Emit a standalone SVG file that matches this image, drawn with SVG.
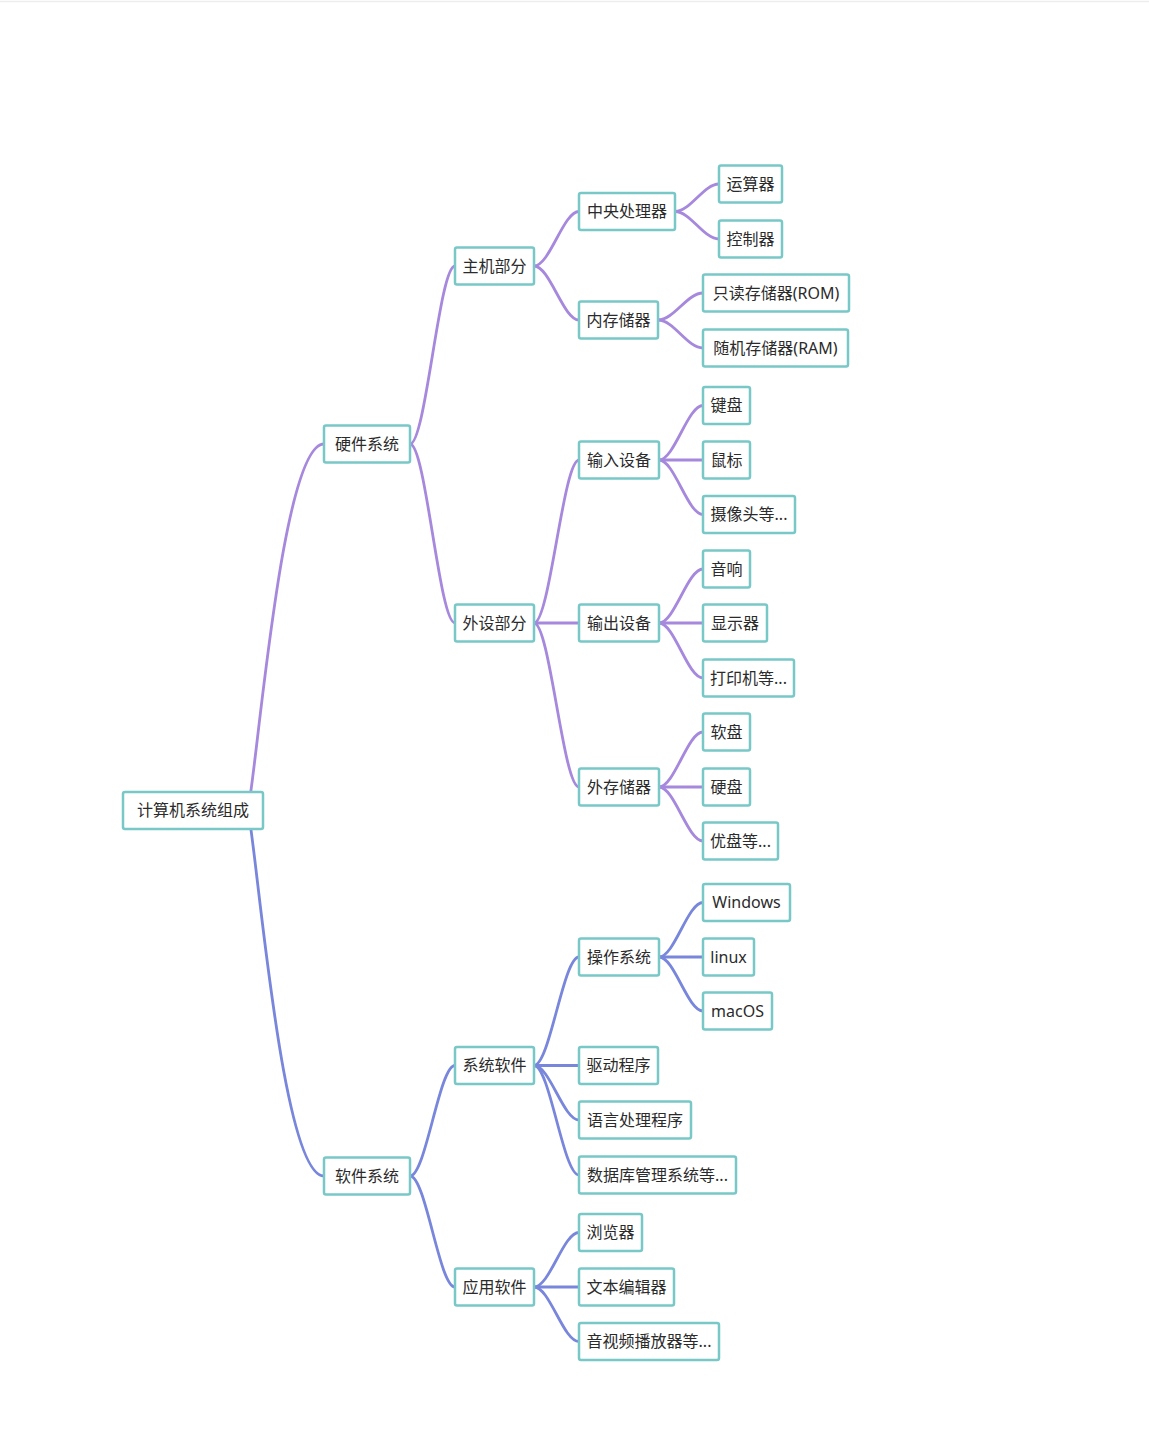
<svg xmlns="http://www.w3.org/2000/svg" width="1149" height="1433" viewBox="0 0 1149 1433">
<style>
.bg{fill:#ffffff}
.n rect{fill:#ffffff;stroke:#78c8c8;stroke-width:2.5}
.n text{font-family:"Noto Sans","Noto Sans CJK SC",sans-serif;font-size:16px;fill:#2b2b2b;text-anchor:middle}
.hw path{fill:none;stroke:#a688dd;stroke-width:2.8;stroke-linecap:round}
.sw path{fill:none;stroke:#7886db;stroke-width:2.8;stroke-linecap:round}
</style>
<rect class="bg" x="0" y="0" width="1149" height="1433"/>
<line x1="0" y1="1.5" x2="1149" y2="1.5" stroke="#ededed" stroke-width="1.5"/>
<g id="connectors">
 <g class="hw">
  <path d="M248,810 C258,760 282,444 324,444"/>
  <path d="M410,444 C425.75,444 439.25,266 455,266"/>
  <path d="M410,444 C425.75,444 439.25,623 455,623"/>
  <path d="M534,266 C549.75,266 563.25,211.5 579,211.5"/>
  <path d="M534,266 C549.75,266 563.25,320 579,320"/>
  <path d="M675,211.5 C690.4,211.5 703.6,184 719,184"/>
  <path d="M675,211.5 C690.4,211.5 703.6,239 719,239"/>
  <path d="M658,320 C673.75,320 687.25,293 703,293"/>
  <path d="M658,320 C673.75,320 687.25,348 703,348"/>
  <path d="M534,623 C549.75,623 563.25,460 579,460"/>
  <path d="M534,623 L579,623"/>
  <path d="M534,623 C549.75,623 563.25,787 579,787"/>
  <path d="M659,460 C674.4,460 687.6,405.5 703,405.5"/>
  <path d="M659,460 L703,460"/>
  <path d="M659,460 C674.4,460 687.6,514.5 703,514.5"/>
  <path d="M659,623 C674.4,623 687.6,569 703,569"/>
  <path d="M659,623 L703,623"/>
  <path d="M659,623 C674.4,623 687.6,678 703,678"/>
  <path d="M659,787 C674.4,787 687.6,732 703,732"/>
  <path d="M659,787 L703,787"/>
  <path d="M659,787 C674.4,787 687.6,841 703,841"/>
 </g>
 <g class="sw">
  <path d="M248,810 C258,860 282,1176 324,1176"/>
  <path d="M410,1176 C425.75,1176 439.25,1065.5 455,1065.5"/>
  <path d="M410,1176 C425.75,1176 439.25,1287 455,1287"/>
  <path d="M534,1065.5 C549.75,1065.5 563.25,957 579,957"/>
  <path d="M534,1065.5 L579,1065.5"/>
  <path d="M534,1065.5 C549.75,1065.5 563.25,1120 579,1120"/>
  <path d="M534,1065.5 C549.75,1065.5 563.25,1175 579,1175"/>
  <path d="M659,957 C674.4,957 687.6,902.5 703,902.5"/>
  <path d="M659,957 L703,957"/>
  <path d="M659,957 C674.4,957 687.6,1011 703,1011"/>
  <path d="M534,1287 C549.75,1287 563.25,1232.5 579,1232.5"/>
  <path d="M534,1287 L579,1287"/>
  <path d="M534,1287 C549.75,1287 563.25,1341.5 579,1341.5"/>
 </g>
</g>
<g id="root" class="n"><rect x="123" y="792" width="140" height="37" rx="2"/><text x="193" y="816">计算机系统组成</text></g>
<g id="hardware" class="n"><rect x="324" y="425.5" width="86" height="37" rx="2"/><text x="367" y="449.5">硬件系统</text></g>
<g id="software" class="n"><rect x="324" y="1157.5" width="86" height="37" rx="2"/><text x="367" y="1181.5">软件系统</text></g>
<g id="host" class="n"><rect x="455" y="247.5" width="79" height="37" rx="2"/><text x="494.5" y="271.5">主机部分</text></g>
<g id="peripheral" class="n"><rect x="455" y="604.5" width="79" height="37" rx="2"/><text x="494.5" y="628.5">外设部分</text></g>
<g id="syssoft" class="n"><rect x="455" y="1047" width="79" height="37" rx="2"/><text x="494.5" y="1071">系统软件</text></g>
<g id="appsoft" class="n"><rect x="455" y="1268.5" width="79" height="37" rx="2"/><text x="494.5" y="1292.5">应用软件</text></g>
<g id="cpu" class="n"><rect x="579" y="193" width="96" height="37" rx="2"/><text x="627" y="217">中央处理器</text></g>
<g id="memory" class="n"><rect x="579" y="301.5" width="79" height="37" rx="2"/><text x="618.5" y="325.5">内存储器</text></g>
<g id="input" class="n"><rect x="579" y="441.5" width="80" height="37" rx="2"/><text x="619" y="465.5">输入设备</text></g>
<g id="output" class="n"><rect x="579" y="604.5" width="80" height="37" rx="2"/><text x="619" y="628.5">输出设备</text></g>
<g id="extstore" class="n"><rect x="579" y="768.5" width="80" height="37" rx="2"/><text x="619" y="792.5">外存储器</text></g>
<g id="os" class="n"><rect x="579" y="938.5" width="80" height="37" rx="2"/><text x="619" y="962.5">操作系统</text></g>
<g id="driver" class="n"><rect x="579" y="1047" width="79" height="37" rx="2"/><text x="618.5" y="1071">驱动程序</text></g>
<g id="langproc" class="n"><rect x="579" y="1101.5" width="112" height="37" rx="2"/><text x="635" y="1125.5">语言处理程序</text></g>
<g id="dbms" class="n"><rect x="579" y="1156.5" width="157" height="37" rx="2"/><text x="657.5" y="1180.5">数据库管理系统等...</text></g>
<g id="browser" class="n"><rect x="579" y="1214" width="63" height="37" rx="2"/><text x="610.5" y="1238">浏览器</text></g>
<g id="editor" class="n"><rect x="579" y="1268.5" width="95" height="37" rx="2"/><text x="626.5" y="1292.5">文本编辑器</text></g>
<g id="player" class="n"><rect x="579" y="1323" width="140" height="37" rx="2"/><text x="649" y="1347">音视频播放器等...</text></g>
<g id="alu" class="n"><rect x="719" y="165.5" width="63" height="37" rx="2"/><text x="750.5" y="189.5">运算器</text></g>
<g id="ctrl" class="n"><rect x="719" y="220.5" width="63" height="37" rx="2"/><text x="750.5" y="244.5">控制器</text></g>
<g id="rom" class="n"><rect x="703" y="274.5" width="146" height="37" rx="2"/><text x="776" y="298.5">只读存储器(ROM)</text></g>
<g id="ram" class="n"><rect x="703" y="329.5" width="145" height="37" rx="2"/><text x="775.5" y="353.5">随机存储器(RAM)</text></g>
<g id="keyboard" class="n"><rect x="703" y="387" width="47" height="37" rx="2"/><text x="726.5" y="411">键盘</text></g>
<g id="mouse" class="n"><rect x="703" y="441.5" width="47" height="37" rx="2"/><text x="726.5" y="465.5">鼠标</text></g>
<g id="camera" class="n"><rect x="703" y="496" width="92" height="37" rx="2"/><text x="749" y="520">摄像头等...</text></g>
<g id="speaker" class="n"><rect x="703" y="550.5" width="47" height="37" rx="2"/><text x="726.5" y="574.5">音响</text></g>
<g id="display" class="n"><rect x="703" y="604.5" width="64" height="37" rx="2"/><text x="735" y="628.5">显示器</text></g>
<g id="printer" class="n"><rect x="703" y="659.5" width="91" height="37" rx="2"/><text x="748.5" y="683.5">打印机等...</text></g>
<g id="floppy" class="n"><rect x="703" y="713.5" width="47" height="37" rx="2"/><text x="726.5" y="737.5">软盘</text></g>
<g id="hdd" class="n"><rect x="703" y="768.5" width="47" height="37" rx="2"/><text x="726.5" y="792.5">硬盘</text></g>
<g id="usb" class="n"><rect x="703" y="822.5" width="75" height="37" rx="2"/><text x="740.5" y="846.5">优盘等...</text></g>
<g id="windows" class="n"><rect x="703" y="884" width="87" height="37" rx="2"/><text x="746.5" y="908">Windows</text></g>
<g id="linux" class="n"><rect x="703" y="938.5" width="51" height="37" rx="2"/><text x="728.5" y="962.5">linux</text></g>
<g id="macos" class="n"><rect x="703" y="992.5" width="69" height="37" rx="2"/><text x="737.5" y="1016.5">macOS</text></g>
</svg>
